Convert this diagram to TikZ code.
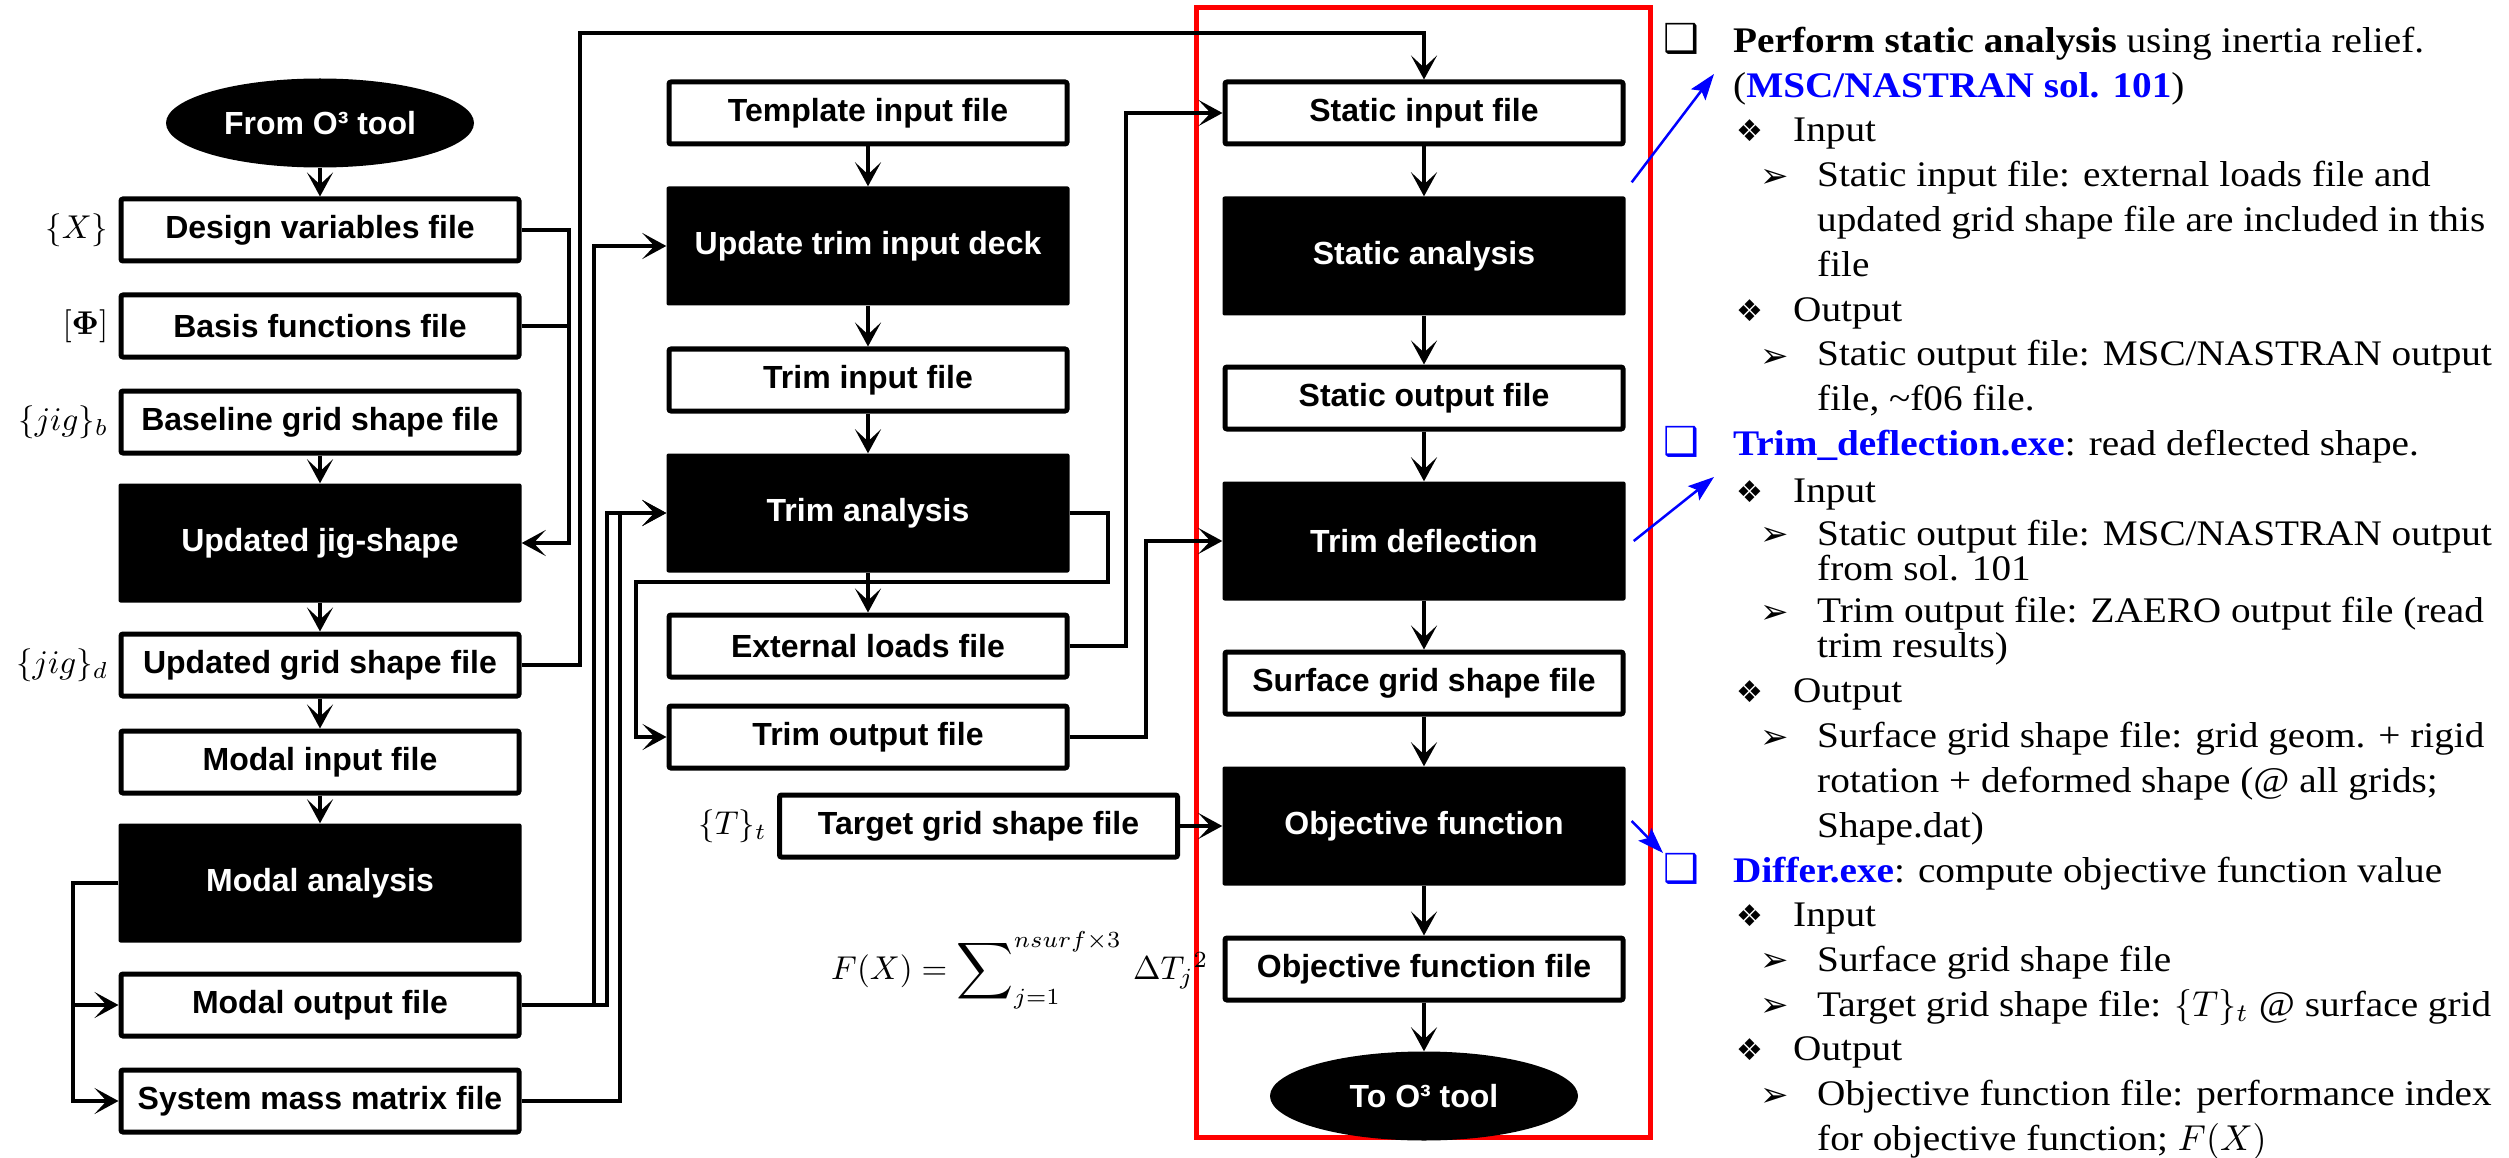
\documentclass[tikz,border=0pt]{standalone}
\usepackage{amsmath}
\usepackage[no-math]{fontspec}
\newfontfamily\boxfont{Liberation Sans}
\newfontfamily\notefont[FakeStretch=1.09]{Liberation Serif}
\newfontfamily\dingfont{DejaVu Sans}
\usetikzlibrary{arrows.meta,positioning,shapes.geometric}
\newcommand{\mth}[2]{\scalebox{#1}{\fontsize{10}{12}\selectfont$#2$}}

\begin{document}
\begin{tikzpicture}[x=1pt,y=-1pt,
  filebox/.style={draw=black,line width=5pt,fill=white,rounded corners=2pt,minimum width=398pt,minimum height=62pt,inner sep=0pt,font=\boxfont\bfseries\fontsize{32}{38}\selectfont},
  procbox/.style={fill=black,text=white,rounded corners=2pt,minimum width=403pt,minimum height=119pt,inner sep=0pt,font=\boxfont\bfseries\fontsize{32}{38}\selectfont},
  endcap/.style={ellipse,fill=black,text=white,minimum width=308pt,minimum height=89pt,inner sep=0pt,font=\boxfont\bfseries\fontsize{32}{38}\selectfont},
  flow/.style={line width=4pt,-{Stealth[length=24pt,width=26pt,inset=12pt]}},
  link/.style={line width=4pt},
  vlabel/.style={inner sep=0pt},
  pointer/.style={draw=blue,line width=2.5pt,-{Stealth[length=26pt,width=18pt,inset=5pt]}},
  note/.style={anchor=base west,inner sep=0pt,align=left,font=\notefont\fontsize{36}{45}\selectfont},
  tight/.style={font=\notefont\fontsize{36}{35}\selectfont},
  tick/.style={anchor=base west,inner sep=0pt,font=\dingfont\fontsize{30}{36}\selectfont},
  box/.style={tick,font=\dingfont\fontsize{40}{44}\selectfont},
  head/.style={tick,font=\dingfont\fontsize{34}{40}\selectfont}]
\useasboundingbox (0,0) rectangle (2509,1158);
\def\xa{320}
\def\xb{868}
\def\xc{1424}

% static / trim part
\draw[red,line width=5pt] (1196,8) rectangle (1650,1137);

% left column
\node[endcap] (from) at (\xa,123) {From O³ tool};
\node[filebox] (dvf) at (\xa,230) {Design variables file};
\node[filebox] (bff) at (\xa,326) {Basis functions file};
\node[filebox] (bgs) at (\xa,422) {Baseline grid shape file};
\node[procbox] (ujs) at (\xa,543) {Updated jig-shape};
\node[filebox] (ugs) at (\xa,665) {Updated grid shape file};
\node[filebox] (mif) at (\xa,762) {Modal input file};
\node[procbox] (mod) at (\xa,883) {Modal analysis};
\node[filebox] (mof) at (\xa,1005) {Modal output file};
\node[filebox] (smm) at (\xa,1101) {System mass matrix file};

\node[vlabel,left=10pt of dvf] (lx) {\mth{3.3}{\{X\}}};
\node[vlabel,left=10pt of bff] (lphi) {\mth{3.3}{[\mathbf{\Phi}]}};
\node[vlabel,left=10pt of bgs] (ljb) {\mth{3.3}{\{jig\}_b}};
\node[vlabel,left=10pt of ugs] (ljd) {\mth{3.3}{\{jig\}_d}};

% middle column
\node[filebox] (tpl) at (\xb,113) {Template input file};
\node[procbox] (utd) at (\xb,246) {Update trim input deck};
\node[filebox] (tif) at (\xb,380) {Trim input file};
\node[procbox] (tra) at (\xb,513) {Trim analysis};
\node[filebox] (elf) at (\xb,646) {External loads file};
\node[filebox] (tof) at (\xb,737) {Trim output file};
\node[filebox] (tgt) at (978.5,826) {Target grid shape file};
\node[vlabel,left=10pt of tgt] (lt) {\mth{3.3}{\{T\}_t}};
\node[inner sep=0pt,anchor=west] (fx) at (831,970)
  {\mth{3.3}{F(X) = \mathop{\vcenter{\hbox{\scalebox{1.2}{$\displaystyle\sum$}}}}\nolimits_{j=1}^{nsurf\times3}\,\Delta T_j{}^2}};

% right column
\node[filebox] (sif) at (\xc,113) {Static input file};
\node[procbox] (sta) at (\xc,256) {Static analysis};
\node[filebox] (sof) at (\xc,398) {Static output file};
\node[procbox] (tdf) at (\xc,541) {Trim deflection};
\node[filebox] (sgs) at (\xc,683) {Surface grid shape file};
\node[procbox] (obj) at (\xc,826) {Objective function};
\node[filebox] (off) at (\xc,969) {Objective function file};
\node[endcap] (to) at (\xc,1096) {To O³ tool};

% straight flows
\draw[flow] (from.south) -- (dvf.north);
\draw[flow] (bgs.south) -- (ujs.north);
\draw[flow] (ujs.south) -- (ugs.north);
\draw[flow] (ugs.south) -- (mif.north);
\draw[flow] (mif.south) -- (mod.north);
\draw[flow] (tpl.south) -- (utd.north);
\draw[flow] (utd.south) -- (tif.north);
\draw[flow] (tif.south) -- (tra.north);
\draw[flow] (tra.south) -- (elf.north);
\draw[flow] (sif.south) -- (sta.north);
\draw[flow] (sta.south) -- (sof.north);
\draw[flow] (sof.south) -- (tdf.north);
\draw[flow] (tdf.south) -- (sgs.north);
\draw[flow] (sgs.south) -- (obj.north);
\draw[flow] (obj.south) -- (off.north);
\draw[flow] (off.south) -- (to.north);
\draw[flow] (tgt.east) -- (obj.west);

% routed flows
\draw[flow] (dvf.east) -- ++(47.5,0) |- (ujs.east);
\draw[link] (bff.east) -- ++(47.5,0);
\draw[flow] (mod.west) -- ++(-45,0) coordinate (modj) |- (smm.west);
\draw[flow] (mof.west -| modj) -- (mof.west);
\draw[flow] (ugs.east) -| (580,33) -| (sif.north);
\draw[flow] (mof.east) -- ++(85.5,0) |- (tra.west);
\draw[flow] (mof.east) ++(72.5,0) |- (utd.west);
\draw[flow] (smm.east) -- ++(98.5,0) |- (tra.west);
\draw[flow] (tra.east) -- ++(38,0) -- ++(0,69) -| ([xshift=-30.5pt]tof.west) -- (tof.west);
\draw[flow] (elf.east) -- ++(56.5,0) |- (sif.west);
\draw[flow] (tof.east) -- ++(76.5,0) |- (tdf.west);

% notes (multi-line nodes sit on their last baseline)
\node[box] (q1) at (1663,53) {❑};
\node[note] (perf) at (1733,98) {\textbf{Perform static analysis} using inertia relief.\\(\textcolor{blue}{\textbf{MSC/NASTRAN sol. 101}})};
\node[tick] (d1) at (1736,142) {❖};
\node[note] (in1) at (1793,142) {Input};
\node[head] (r1) at (1760,188) {➢};
\node[note] (sin) at (1817,277) {Static input file: external loads file and\\updated grid shape file are included in this\\file};
\node[tick] (d2) at (1736,322) {❖};
\node[note] (out1) at (1793,322) {Output};
\node[head] (r2) at (1760,367) {➢};
\node[note] (sout) at (1817,410) {Static output file: MSC/NASTRAN output\\file, \textasciitilde f06 file.};

\node[box,blue] (q2) at (1663,455) {❑};
\node[note] (tdx) at (1733,455) {\textcolor{blue}{\textbf{Trim\_deflection.exe}}: read deflected shape.};
\node[tick] (d3) at (1736,502) {❖};
\node[note] (in2) at (1793,502) {Input};
\node[head] (r3) at (1760,545) {➢};
\node[note,tight] (sout2) at (1817,580) {Static output file: MSC/NASTRAN output\\from sol. 101};
\node[head] (r4) at (1760,623) {➢};
\node[note,tight] (tout) at (1817,657) {Trim output file: ZAERO output file (read\\trim results)};
\node[tick] (d4) at (1736,702) {❖};
\node[note] (out2) at (1793,702) {Output};
\node[head] (r5) at (1760,748) {➢};
\node[note] (sgsn) at (1817,837) {Surface grid shape file: grid geom. + rigid\\rotation + deformed shape (@ all grids;\\Shape.dat)};

\node[box,blue] (q3) at (1663,882) {❑};
\node[note] (dif) at (1733,882) {\textcolor{blue}{\textbf{Differ.exe}}: compute objective function value};
\node[tick] (d5) at (1736,926) {❖};
\node[note] (in3) at (1793,926) {Input};
\node[head] (r6) at (1760,971) {➢};
\node[note] (sgsin) at (1817,971) {Surface grid shape file};
\node[head] (r7) at (1760,1016) {➢};
\node[note] (tgtin) at (1817,1016) {Target grid shape file: \mth{3.6}{\{T\}_t} @ surface grid};
\node[tick] (d6) at (1736,1060) {❖};
\node[note] (out3) at (1793,1060) {Output};
\node[head] (r8) at (1760,1106) {➢};
\node[note] (ofo) at (1817,1150) {Objective function file: performance index\\for objective function; \mth{3.6}{F(X)}};

% pointers to notes
\coordinate (p1) at (1714,74);
\coordinate (p2) at (1714,477);
\coordinate (p3) at (1663,853);
\draw[pointer] ([xshift=6pt,yshift=14pt]sta.north east) -- (p1);
\draw[pointer] ([xshift=8pt]tdf.east) -- (p2);
\draw[pointer] ([xshift=6pt,yshift=5pt]obj.east) -- (p3);
\end{tikzpicture}
\end{document}
